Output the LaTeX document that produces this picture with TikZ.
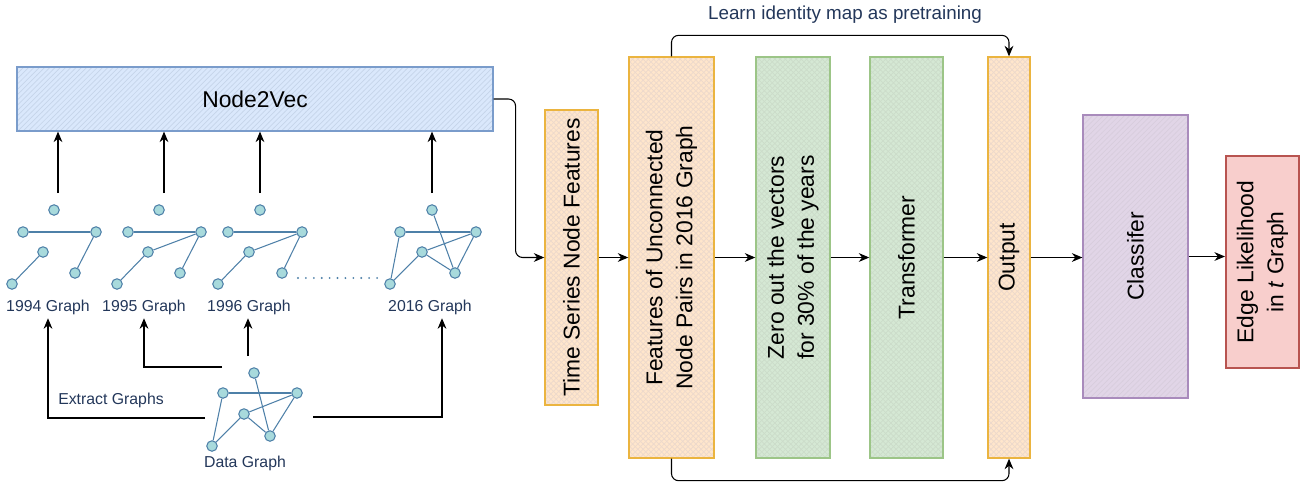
\documentclass[tikz,border=0pt]{standalone}
\usepackage{fontspec}
\setmainfont{Liberation Sans}
\usetikzlibrary{arrows.meta,patterns}

\definecolor{n2vfill}{HTML}{DAE8FC}
\definecolor{n2vline}{HTML}{7A9CCB}
\definecolor{n2vhatch}{HTML}{C6D5EA}
\definecolor{orfill}{HTML}{FFE6CC}
\definecolor{orline}{HTML}{EBB43F}
\definecolor{orhatch}{HTML}{EDD9CB}
\definecolor{grfill}{HTML}{D5E8D4}
\definecolor{grline}{HTML}{9CC587}
\definecolor{grhatch}{HTML}{CCDCCA}
\definecolor{pufill}{HTML}{E1D5E7}
\definecolor{puline}{HTML}{A98BBC}
\definecolor{puhatch}{HTML}{D8CDDD}
\definecolor{refill}{HTML}{F8CECC}
\definecolor{reline}{HTML}{B85450}
\definecolor{gfill}{HTML}{A8DADC}
\definecolor{gline}{HTML}{4E80A8}
\definecolor{navy}{HTML}{23375A}

\tikzset{
  boxtext/.style={font=\fontsize{13}{17}\selectfont, text=black, align=center},
  small/.style={font=\fontsize{9}{11}\selectfont, text=navy, inner sep=2pt},
  n2vbox/.style={draw=n2vline, line width=0.7pt, preaction={fill=n2vfill}, pattern=north east lines, pattern color=n2vhatch, boxtext},
  orbox/.style={draw=orline, line width=0.8pt, preaction={fill=orfill}, pattern=crosshatch, pattern color=orhatch},
  grbox/.style={draw=grline, line width=0.8pt, preaction={fill=grfill}, pattern=crosshatch, pattern color=grhatch},
  pubox/.style={draw=puline, line width=0.7pt, preaction={fill=pufill}, pattern=north east lines, pattern color=puhatch},
  rebox/.style={draw=reline, fill=refill, line width=1.2pt},
  gnode/.style={circle, draw=gline, fill=gfill, line width=0.6pt, minimum size=0.21cm, inner sep=0pt},
  gedge/.style={draw=gline, line width=0.6pt},
}

\begin{document}
\begin{tikzpicture}[x=0.02cm, y=-0.02cm, >={Stealth[length=6pt,width=5pt]}]
  \useasboundingbox (0,0) rectangle (1307,481);

  % Riquadro Node2Vec
  \node[n2vbox, minimum width=9.52cm, minimum height=1.28cm] (n2v) at (255,99) {Node2Vec};

  % Grafo 1994
  \node[gnode] (a94t) at (54,210) {};
  \node[gnode] (a94l) at (23,232) {};
  \node[gnode] (a94r) at (96,232) {};
  \node[gnode] (a94m) at (43,252) {};
  \node[gnode] (a94p) at (12,284) {};
  \node[gnode] (a94q) at (75,273) {};
  \draw[gedge] (a94l) -- (a94r);
  \draw[gedge] (a94m) -- (a94p);
  \draw[gedge] (a94r) -- (a94q);
  \node[small] (lbl94) at (48,307) {1994 Graph};

  % Grafo 1995
  \node[gnode] (a95t) at (159,210) {};
  \node[gnode] (a95l) at (128,232) {};
  \node[gnode] (a95r) at (201,232) {};
  \node[gnode] (a95m) at (148,252) {};
  \node[gnode] (a95p) at (117,284) {};
  \node[gnode] (a95q) at (180,273) {};
  \draw[gedge] (a95l) -- (a95r);
  \draw[gedge] (a95m) -- (a95r);
  \draw[gedge] (a95m) -- (a95p);
  \draw[gedge] (a95r) -- (a95q);
  \node[small] (lbl95) at (144,307) {1995 Graph};

  % Grafo 1996
  \node[gnode] (a96t) at (260,210) {};
  \node[gnode] (a96l) at (228,232) {};
  \node[gnode] (a96r) at (302,232) {};
  \node[gnode] (a96m) at (249,252) {};
  \node[gnode] (a96p) at (218,284) {};
  \node[gnode] (a96q) at (282,273) {};
  \draw[gedge] (a96l) -- (a96r);
  \draw[gedge] (a96m) -- (a96r);
  \draw[gedge] (a96m) -- (a96p);
  \draw[gedge] (a96r) -- (a96q);
  \node[small] (lbl96) at (249,307) {1996 Graph};

  % Puntini
  \draw[gline, line width=1.2pt, line cap=round, dash pattern=on 0pt off 4.5pt] (298,278) -- (378,278);

  % Grafo 2016
  \node[gnode] (a16t) at (432,210) {};
  \node[gnode] (a16l) at (400,232) {};
  \node[gnode] (a16r) at (476,232) {};
  \node[gnode] (a16m) at (422,252) {};
  \node[gnode] (a16p) at (390,284) {};
  \node[gnode] (a16q) at (455,273) {};
  \draw[gedge] (a16l) -- (a16r);
  \draw[gedge] (a16t) -- (a16q);
  \draw[gedge] (a16l) -- (a16p);
  \draw[gedge] (a16m) -- (a16p);
  \draw[gedge] (a16m) -- (a16r);
  \draw[gedge] (a16m) -- (a16q);
  \draw[gedge] (a16r) -- (a16q);
  \node[small] (lbl16) at (430,307) {2016 Graph};

  % Grafo dei dati
  \node[gnode] (dt) at (254,373) {};
  \node[gnode] (dl) at (223,393) {};
  \node[gnode] (dr) at (297,393) {};
  \node[gnode] (dm) at (244,414) {};
  \node[gnode] (dp) at (212,446) {};
  \node[gnode] (dq) at (270,436) {};
  \draw[gedge] (dl) -- (dr);
  \draw[gedge] (dt) -- (dq);
  \draw[gedge] (dl) -- (dp);
  \draw[gedge] (dm) -- (dp);
  \draw[gedge] (dm) -- (dr);
  \draw[gedge] (dm) -- (dq);
  \draw[gedge] (dr) -- (dq);
  \node[small] (datalbl) at (245,463) {Data Graph};

  % Frecce verso Node2Vec
  \coordinate (c94) at (58,193);
  \coordinate (c95) at (164,193);
  \coordinate (c96) at (260,193);
  \coordinate (c16) at (432,193);
  \draw[->, semithick] (c94) -- (c94 |- n2v.south);
  \draw[->, semithick] (c95) -- (c95 |- n2v.south);
  \draw[->, semithick] (c96) -- (c96 |- n2v.south);
  \draw[->, semithick] (c16) -- (c16 |- n2v.south);

  % Frecce dal grafo dei dati
  \coordinate (outl) at (205,418);
  \coordinate (outt) at (222,367);
  \coordinate (outu) at (248,356);
  \coordinate (outr) at (313,417);
  \draw[->, semithick] (outl) -| (lbl94.south);
  \draw[->, semithick] (outt) -| (lbl95.south);
  \draw[->, semithick] (outu) -- (outu |- lbl96.south);
  \draw[->, semithick] (outr) -| ([xshift=0.24cm]lbl16.south);
  \node[small] (extract) at (111,400) {Extract Graphs};

  % Blocchi della rete
  \node[orbox, minimum width=1.06cm, minimum height=5.9cm] (ts) at (571.5,257.5) {};
  \node[boxtext, rotate=90] (tslbl) at (ts) {Time Series Node Features};
  \node[orbox, minimum width=1.7cm, minimum height=8.02cm] (feat) at (671.5,257.5) {};
  \node[boxtext, rotate=90] (featlbl) at (feat) {Features of Unconnected\\Node Pairs in 2016 Graph};
  \node[grbox, minimum width=1.48cm, minimum height=8.02cm] (zero) at (793,257.5) {};
  \node[boxtext, rotate=90] (zerolbl) at (zero) {Zero out the vectors\\for 30\% of the years};
  \node[grbox, minimum width=1.46cm, minimum height=8.02cm] (trans) at (906.5,257.5) {};
  \node[boxtext, rotate=90] (translbl) at (trans) {Transformer};
  \node[orbox, minimum width=0.84cm, minimum height=8.02cm] (out) at (1009,257.5) {};
  \node[boxtext, rotate=90] (outlbl) at (out) {Output};
  \node[pubox, minimum width=2.1cm, minimum height=5.66cm] (cls) at (1135.5,256.5) {};
  \node[boxtext, rotate=90] (clslbl) at (cls) {Classifer};
  \node[rebox, minimum width=1.46cm, minimum height=4.24cm] (edge) at (1262.5,262) {};
  \node[boxtext, rotate=90] (edgelbl) at (edge) {Edge Likelihood\\in \textit{t} Graph};

  % Collegamenti
  \draw[->, semithick, rounded corners=4pt] (n2v.east) -- ++(22,0) |- (ts.west);
  \draw[->, semithick] (ts.east) -- (feat.west);
  \draw[->, semithick] (feat.east) -- (zero.west);
  \draw[->, semithick] (zero.east) -- (trans.west);
  \draw[->, semithick] (trans.east) -- (out.west);
  \draw[->, semithick] (out.east) -- (out.east -| cls.west);
  \draw[->, semithick] (cls.east) -- (cls.east -| edge.west);

  % Pre-addestramento
  \draw[->, semithick, rounded corners=4pt] (feat.north) -- ++(0,-21) -| (out.north);
  \draw[->, semithick, rounded corners=4pt] (feat.south) -- ++(0,22) -| (out.south);
  \node[font=\fontsize{10.7}{13}\selectfont, text=navy] (pretrain) at (845,15) {Learn identity map as pretraining};
\end{tikzpicture}
\end{document}
